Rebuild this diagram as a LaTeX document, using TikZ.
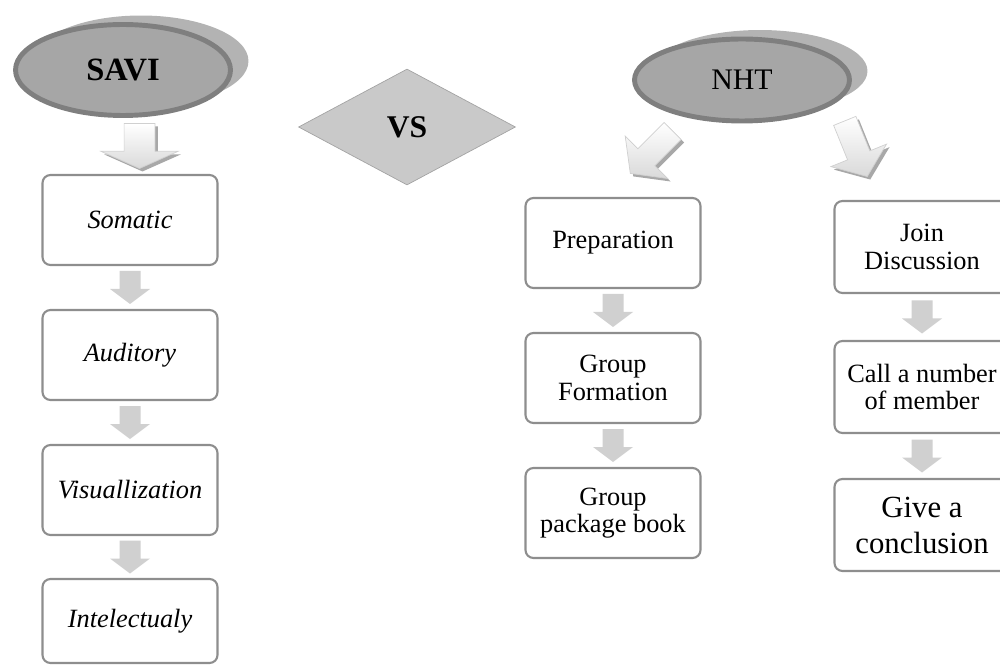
\documentclass[tikz,border=0pt]{standalone}
\usepackage{fontspec}
\setmainfont{Liberation Serif}
\usetikzlibrary{shapes.geometric,shadows,calc}

\definecolor{ringgray}{HTML}{7F7F7F}
\definecolor{fillgray}{HTML}{A6A6A6}
\definecolor{shadowgray}{HTML}{B3B3B3}
\definecolor{diafill}{HTML}{C9C9C9}
\definecolor{diagray}{HTML}{A3A3A3}
\definecolor{boxgray}{HTML}{8E8E8E}
\definecolor{arrowgray}{HTML}{D0D0D0}
\definecolor{edgegray}{HTML}{A8A8A8}

\tikzset{
  stepbox/.style={draw=boxgray, line width=1.2pt, rounded corners=4.5pt, fill=white,
    minimum width=3.5cm, minimum height=1.8cm, align=center, inner sep=2pt,
    font=\fontsize{15}{15.5}\selectfont},
  topic/.style={ellipse, draw=ringgray, line width=2.8pt, fill=fillgray,
    minimum width=4.3cm, inner sep=0pt, font=\fontsize{17}{17}\selectfont,
    drop shadow={shadow xshift=0.36cm, shadow yshift=0.18cm, fill=shadowgray, opacity=1}},
  versus/.style={diamond, draw=diagray, fill=diafill, minimum width=4.34cm,
    minimum height=2.32cm, inner sep=0pt, font=\fontsize{18}{18}\selectfont\bfseries},
}

% small grey arrow between two boxes
\newcommand{\flowarrow}[2]{%
  \fill[arrowgray] ($(#1.south)!0.5!(#2.north)$) ++(-10.5,-16.5) -- ++(21,0) -- ++(0,18)
    -- ++(9.5,0) -- ++(-20,15) -- ++(-20,-15) -- ++(9.5,0) -- cycle;}

% shaded block arrow: position, angle, head half width, length
\newcommand{\bigarrow}[4]{%
  \pgfmathsetmacro{\sh}{0.4*#3}%
  \pgfmathsetmacro{\hl}{#4/2}%
  \pgfmathsetmacro{\hb}{#4/2-0.38*#4}%
  \begin{scope}[shift={#1}]
    \fill[edgegray, shift={(3,3)}, rotate=#2] (-\sh,-\hl) -- (\sh,-\hl) -- (\sh,\hb) -- (#3,\hb)
      -- (0,\hl) -- (-#3,\hb) -- (-\sh,\hb) -- cycle;
    \shade[top color=white, bottom color=arrowgray!80, draw=arrowgray, rotate=#2]
      (-\sh,-\hl) -- (\sh,-\hl) -- (\sh,\hb) -- (#3,\hb)
      -- (0,\hl) -- (-#3,\hb) -- (-\sh,\hb) -- cycle;
  \end{scope}}

\begin{document}
\begin{tikzpicture}[x=0.02cm, y=-0.02cm]
\useasboundingbox (0,0) rectangle (1000,665);

% SAVI side
\node[topic, minimum height=1.82cm, font=\fontsize{18.5}{18.5}\selectfont] (savi) at (123,70) {\bfseries SAVI};
\node[stepbox] (som) at (130,220) {\itshape Somatic};
\node[stepbox] (aud) at (130,355) {\itshape Auditory};
\node[stepbox] (vis) at (130,490) {\itshape Visuallization};
\node[stepbox, minimum height=1.68cm] (int) at (130,621) {\itshape Intelectualy};
\bigarrow{($(savi.south)!0.5!(som.north)+(13,0)$)}{0}{38.5}{45}
\flowarrow{som}{aud}
\flowarrow{aud}{vis}
\flowarrow{vis}{int}

% versus
\node[versus] (vs) at (407,127) {VS};

% NHT side
\node[topic, minimum height=1.64cm] (nht) at (742,80) {NHT};
\node[stepbox] (prep) at (613,243) {Preparation};
\node[stepbox] (grp) at (613,378) {Group\\Formation};
\node[stepbox] (pkg) at (613,513) {Group\\package book};
\node[stepbox, minimum height=1.84cm] (join) at (922,247) {Join\\Discussion};
\node[stepbox, minimum height=1.84cm] (call) at (922,387) {Call a number\\of member};
\node[stepbox, minimum height=1.84cm, font=\fontsize{17.5}{20.5}\selectfont] (give) at (922,525) {Give a\\conclusion};
\bigarrow{($(nht.south)!0.5!(prep.north)+(-26,-8)$)}{-45}{30}{60}
\bigarrow{($(nht.south)!0.5!(join.north)+(24,-13)$)}{22}{30}{60}
\flowarrow{prep}{grp}
\flowarrow{grp}{pkg}
\flowarrow{join}{call}
\flowarrow{call}{give}
\end{tikzpicture}
\end{document}
